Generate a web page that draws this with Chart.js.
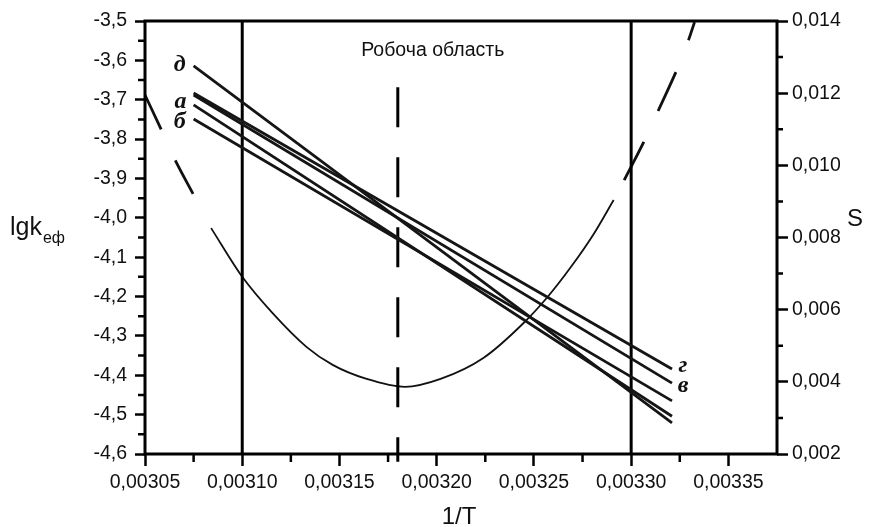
<!DOCTYPE html>
<html>
<head>
<meta charset="utf-8">
<script src="https://cdn.jsdelivr.net/npm/chart.js@4.4.0/dist/chart.umd.min.js"></script>
<style>
  html, body { margin: 0; padding: 0; background: #fff; }
</style>
</head>
<body>
<canvas id="chart" width="883" height="527"></canvas>
<script>
// tick values
var xTicks = [0.00305, 0.00310, 0.00315, 0.00320, 0.00325, 0.00330, 0.00335];
var lgTicks = [-4.6, -4.5, -4.4, -4.3, -4.2, -4.1, -4.0, -3.9, -3.8, -3.7, -3.6, -3.5];
var sTicks = [0.002, 0.004, 0.006, 0.008, 0.010, 0.012, 0.014];

// lg k_ef straight lines (left axis)
var lineNames = ['д', 'г', 'в', 'а', 'б'];
var lineX = [0.003075, 0.003321];
var lineStartY = [-3.614, -3.683, -3.688, -3.713, -3.749];
var lineEndY = [-4.521, -4.384, -4.420, -4.504, -4.465];

// S curve (right axis) in three pieces
var sLeftX = [0.003050, 0.003058, 0.003065, 0.003075];
var sLeftY = [0.01195, 0.01103, 0.01020, 0.00918];
var sMidX = [0.003084, 0.003100, 0.0031155, 0.003133, 0.0031465, 0.003164, 0.0031837,
             0.003202, 0.003224, 0.0032447, 0.003257, 0.003269, 0.003281, 0.003291];
var sMidY = [0.00826, 0.00691, 0.00591, 0.00497, 0.00447, 0.00408, 0.00386,
             0.00408, 0.00466, 0.00563, 0.00635, 0.00718, 0.00812, 0.00904];
var sRightX = [0.0032964, 0.0033067, 0.003315, 0.0033243, 0.0033295, 0.0033326];
var sRightY = [0.00959, 0.01067, 0.01164, 0.01275, 0.01347, 0.01397];

// working region
var boundaryX = [0.00310, 0.00330];
var optimumX = 0.00318;
var optimumY = [-3.668, -4.62];

function pts(xs, ys) {
  return xs.map(function (x, i) { return { x: x, y: ys[i] }; });
}

var datasets = [];
lineNames.forEach(function (name, i) {
  datasets.push({
    label: name,
    data: [{ x: lineX[0], y: lineStartY[i] }, { x: lineX[1], y: lineEndY[i] }],
    yAxisID: 'y', borderColor: '#151515', borderWidth: 2.8, pointRadius: 0, showLine: true
  });
});
boundaryX.forEach(function (b) {
  datasets.push({
    data: [{ x: b, y: -4.6 }, { x: b, y: -3.5 }],
    yAxisID: 'y', borderColor: '#000', borderWidth: 3, pointRadius: 0, showLine: true
  });
});
datasets.push({
  data: [{ x: optimumX, y: optimumY[0] }, { x: optimumX, y: optimumY[1] }],
  yAxisID: 'y', borderColor: '#000', borderWidth: 3, borderDash: [40, 30],
  pointRadius: 0, showLine: true, clip: false
});
datasets.push({
  data: pts(sLeftX, sLeftY), yAxisID: 'y2', borderColor: '#111', borderWidth: 2.8,
  borderDash: [38, 34], pointRadius: 0, showLine: true, cubicInterpolationMode: 'monotone'
});
datasets.push({
  data: pts(sMidX, sMidY), yAxisID: 'y2', borderColor: '#111', borderWidth: 1.8,
  pointRadius: 0, showLine: true, cubicInterpolationMode: 'monotone'
});
datasets.push({
  data: pts(sRightX, sRightY), yAxisID: 'y2', borderColor: '#111', borderWidth: 2.8,
  borderDash: [43, 34], pointRadius: 0, showLine: true, cubicInterpolationMode: 'monotone'
});

// labels next to the line ends: [line index, which end, dx, dy]
var labelSpots = [[0, 0, -14, -1], [3, 0, -13, -3], [4, 0, -14, 3], [1, 1, 11, -3], [2, 1, 11, 3]];

var decor = {
  id: 'decor',
  afterDatasetsDraw: function (chart) {
    var ctx = chart.ctx, a = chart.chartArea, sx = chart.scales.x, sy = chart.scales.y, s2 = chart.scales.y2;
    ctx.save();
    ctx.strokeStyle = '#000';
    ctx.lineWidth = 3;
    ctx.strokeRect(a.left, a.top, a.right - a.left, a.bottom - a.top);

    // minor ticks
    ctx.lineWidth = 2.5;
    ctx.beginPath();
    for (var v = -4.55; v < -3.5; v += 0.1) {
      var py = sy.getPixelForValue(v);
      ctx.moveTo(a.left - 7, py); ctx.lineTo(a.left, py);
    }
    for (var w = 0.003; w < 0.014; w += 0.002) {
      var qy = s2.getPixelForValue(w);
      ctx.moveTo(a.right, qy); ctx.lineTo(a.right + 6, qy);
    }
    for (var u = 0.003075; u < 0.00337; u += 0.00005) {
      var px = sx.getPixelForValue(u);
      ctx.moveTo(px, a.bottom); ctx.lineTo(px, a.bottom + 8);
    }
    ctx.stroke();

    ctx.fillStyle = '#111';
    // line labels
    ctx.font = 'italic bold 24px "Liberation Serif"';
    ctx.textAlign = 'center';
    ctx.textBaseline = 'middle';
    labelSpots.forEach(function (s) {
      var i = s[0];
      var x = sx.getPixelForValue(lineX[s[1]]);
      var y = sy.getPixelForValue(s[1] === 0 ? lineStartY[i] : lineEndY[i]);
      ctx.fillText(lineNames[i], x + s[2], y + s[3]);
    });

    // region caption
    ctx.font = '19.5px "Liberation Sans"';
    ctx.fillText('Робоча область', sx.getPixelForValue(0.003198), sy.getPixelForValue(-3.574));

    // axis titles
    ctx.textBaseline = 'alphabetic';
    ctx.textAlign = 'left';
    ctx.font = '25px "Liberation Sans"';
    ctx.fillText('lgk', 10, 235);
    var wk = ctx.measureText('lgk').width;
    ctx.font = '16px "Liberation Sans"';
    ctx.fillText('еф', 10 + wk + 1, 243);
    ctx.textAlign = 'center';
    ctx.font = '24px "Liberation Sans"';
    ctx.fillText('S', 855, 226);
    ctx.fillText('1/T', 459, 524);
    ctx.restore();
  }
};

function setTicks(list) {
  return function (scale) { scale.ticks = list.map(function (v) { return { value: v }; }); };
}
var tickFont = { family: 'Liberation Sans', size: 19.5 };

new Chart(document.getElementById('chart'), {
  type: 'scatter',
  data: { datasets: datasets },
  options: {
    responsive: false,
    animation: false,
    layout: { padding: { top: 21, left: 0, right: 0, bottom: 0 } },
    plugins: { legend: { display: false }, tooltip: { enabled: false } },
    scales: {
      x: {
        type: 'linear', min: 0.00305, max: 0.003375,
        afterBuildTicks: setTicks(xTicks),
        afterFit: function (s) { s.height = 73; },
        border: { display: false },
        grid: { drawOnChartArea: false, tickLength: 12, tickWidth: 2.5, color: '#000' },
        ticks: { font: tickFont, color: '#111', padding: 5, maxRotation: 0,
                 callback: function (v) { return v.toFixed(5).replace('.', ','); } }
      },
      y: {
        type: 'linear', position: 'left', min: -4.6, max: -3.5,
        afterBuildTicks: setTicks(lgTicks),
        afterFit: function (s) { s.width = 145; },
        border: { display: false },
        grid: { drawOnChartArea: false, tickLength: 10, tickWidth: 2.5, color: '#000' },
        ticks: { font: tickFont, color: '#111', padding: 8,
                 callback: function (v) { return v.toFixed(1).replace('.', ','); } }
      },
      y2: {
        type: 'linear', position: 'right', min: 0.002, max: 0.014,
        afterBuildTicks: setTicks(sTicks),
        afterFit: function (s) { s.width = 106; },
        border: { display: false },
        grid: { drawOnChartArea: false, tickLength: 11, tickWidth: 2.5, color: '#000' },
        ticks: { font: tickFont, color: '#111', padding: 4,
                 callback: function (v) { return v.toFixed(3).replace('.', ','); } }
      }
    }
  },
  plugins: [decor]
});
</script>
</body>
</html>
